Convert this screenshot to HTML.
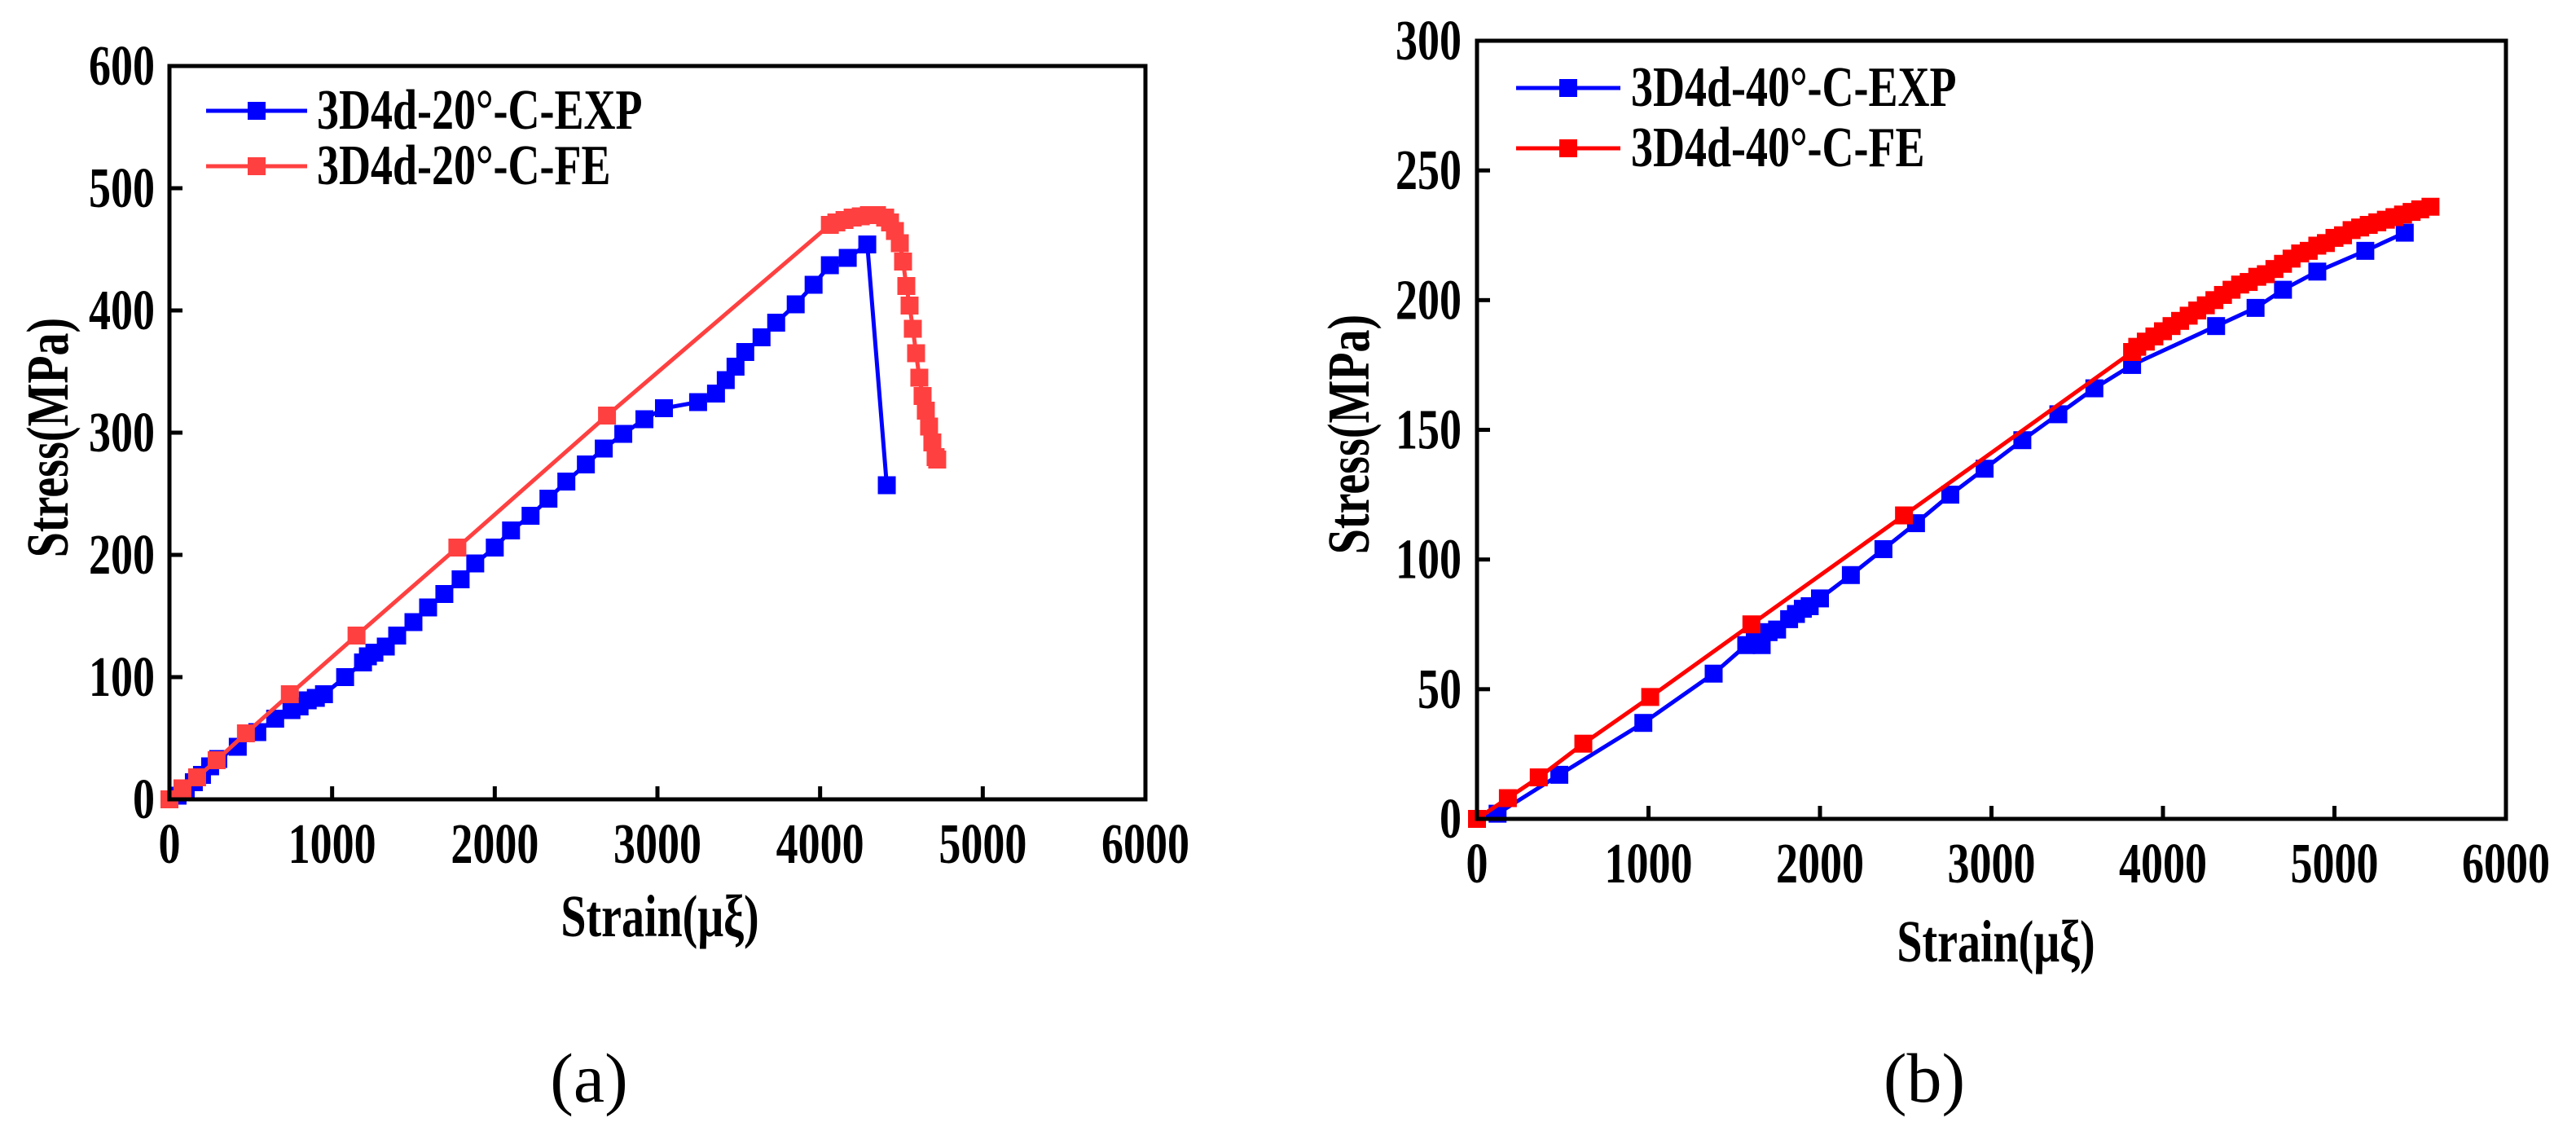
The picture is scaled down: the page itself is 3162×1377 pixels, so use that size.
<!DOCTYPE html>
<html><head><meta charset="utf-8"><style>
html,body{margin:0;padding:0;background:#fff;}
svg{display:block;font-family:"Liberation Serif",serif;font-weight:bold;}
</style></head><body>
<svg id="fig" width="3162" height="1377" viewBox="0 0 3162 1377" xmlns="http://www.w3.org/2000/svg">
<rect width="3162" height="1377" fill="#fff"/>
</svg>
<script>
const xTicks=[0,1000,2000,3000,4000,5000,6000];
const aYTicks=[0,100,200,300,400,500,600];
const bYTicks=[0,50,100,150,200,250,300];
const aExpX=[0,50,100,150,200,250,300,420,540,650,750,800,850,900,950,1080,1190,1220,1260,1330,1400,1500,1590,1690,1790,1880,2000,2100,2220,2330,2440,2560,2670,2790,2920,3040,3250,3360,3420,3480,3540,3640,3730,3850,3960,4060,4170,4290,4410];
const aExpY=[0,3,8,14,20,27,33,43,55,66,73,76,81,83,86,100,112,117,120,125,134,145,157,168,180,193,206,220,232,246,260,274,287,299,311,320,325,332,343,354,366,378,390,405,421,437,443,454,257];
const aFeX=[0,80,170,290,470,740,1150,1770,2690,4060,4100,4150,4200,4250,4300,4350,4400,4430,4460,4490,4510,4530,4550,4570,4590,4610,4630,4650,4670,4690,4710,4720];
const aFeY=[0,9,18,32,54,86,134,206,314,470,472,474,476,477,478,478,476,472,465,455,440,420,404,385,365,345,330,318,305,292,280,278];
const bExpX=[0,120,480,970,1380,1570,1620,1660,1700,1750,1820,1860,1900,1940,2000,2180,2370,2560,2760,2960,3180,3390,3600,3820,4310,4540,4700,4900,5180,5410];
const bExpY=[0,2,17,37,56,67,69,67,72,73,77,79,81,82,85,94,104,114,125,135,146,156,166,175,190,197,204,211,219,226];
const bFeX=[0,180,360,620,1010,1600,2490,3820,3850,3900,3950,4000,4050,4100,4150,4200,4250,4300,4350,4400,4450,4500,4550,4600,4650,4700,4750,4800,4850,4900,4950,5000,5050,5100,5150,5200,5250,5300,5350,5400,5450,5500,5560];
const bFeY=[0,8,16,29,47,75,117,180,182,184,186,188,190,192,194,196,198,200,202,204,206,207,209,210,212,214,216,218,219,221,222,224,225,227,228,229,230,231,232,233,234,235,236];

const NS='http://www.w3.org/2000/svg';
const svg=document.getElementById('fig');
function mk(tag,attrs,parent,text){const e=document.createElementNS(NS,tag);for(const k in attrs)e.setAttribute(k,attrs[k]);if(text!==undefined)e.textContent=text;(parent||svg).appendChild(e);return e;}
function txt(x,y,size,anchor,str,parent,rot){
  const tr=`translate(${x},${y})`+(rot?' rotate(-90)':'')+' scale(1,1.3)';
  return mk('text',{x:0,y:0,'font-size':size,'text-anchor':anchor,transform:tr},parent,str);
}

function panel(cfg){
  const g=mk('g',{});
  
  
  const sx=v=>cfg.x0+(v-0)/6000*(cfg.x1-cfg.x0);
  const sy=v=>cfg.y0-(v/cfg.ymax)*(cfg.y0-cfg.y1);
  function series(xs,ys,color,nm){
    const sg=mk('g',{},g);
    
    
    const pts=xs.map((x,i)=>sx(x).toFixed(1)+','+sy(ys[i]).toFixed(1)).join(' ');
    const pl=mk('polyline',{points:pts,fill:'none',stroke:color,'stroke-width':5},sg);
    
    
    xs.forEach((x,i)=>{
      const r=mk('rect',{x:sx(x)-11,y:sy(ys[i])-11,width:22,height:22,fill:color},sg);
      
      
    });
  }
  series(cfg.expX,cfg.expY,'#0000ff','exp-series');
  series(cfg.feX,cfg.feY,cfg.feColor,'fe-series');
  const frame=mk('rect',{x:cfg.x0,y:cfg.y1,width:cfg.x1-cfg.x0,height:cfg.y0-cfg.y1,fill:'none',stroke:'#000','stroke-width':5},g);
  
  
  xTicks.forEach(t=>{
    const l=mk('line',{x1:sx(t),x2:sx(t),y1:cfg.y0,y2:cfg.y0-16,stroke:'#000','stroke-width':5},g);
    
    
    const tx=txt(sx(t),cfg.y0+78,54,'middle',String(t),g);
    
    
  });
  cfg.yTicks.forEach(t=>{
    const l=mk('line',{x1:cfg.x0,x2:cfg.x0+16,y1:sy(t),y2:sy(t),stroke:'#000','stroke-width':5},g);
    
    
    const tx=txt(cfg.ylx,sy(t)+23,54,'end',String(t),g);
    
    
  });
  const xt=txt(cfg.xtx,cfg.xty+23,56,'middle','Strain(μξ)',g);
  
  
  const yt=txt(cfg.ytx+23,cfg.yty,56,'middle','Stress(MPa)',g,true);
  
  
  cfg.legend.forEach((L,i)=>{
    const lg=mk('g',{},g);
    
    
    mk('line',{x1:cfg.lx1,x2:cfg.lx2,y1:L.y,y2:L.y,stroke:L.c,'stroke-width':5},lg);
    mk('rect',{x:(cfg.lx1+cfg.lx2)/2-11,y:L.y-11,width:22,height:22,fill:L.c},lg);
    txt(cfg.ltx,L.y+22,54,'start',L.t,lg);
  });
  const cap=mk('text',{x:cfg.capx,y:1352,'font-size':86,'text-anchor':'middle','font-weight':'normal'},g,cfg.cap);
  
  
}

panel({name:'chart-a',x0:208,x1:1406,y0:981,y1:81,ymax:600,yTicks:aYTicks,
  expX:aExpX,expY:aExpY,feX:aFeX,feY:aFeY,feColor:'#ff4040',
  ylx:190,xtx:810,xty:1126,ytx:60,yty:537,lx1:253,lx2:377,ltx:389,capx:723,cap:'(a)',
  legend:[{y:136,c:'#0000ff',t:'3D4d-20°-C-EXP'},{y:204,c:'#ff4040',t:'3D4d-20°-C-FE'}]});
panel({name:'chart-b',x0:1813,x1:3076,y0:1005,y1:50,ymax:300,yTicks:bYTicks,
  expX:bExpX,expY:bExpY,feX:bFeX,feY:bFeY,feColor:'#ff0000',
  ylx:1794,xtx:2450,xty:1157,ytx:1657,yty:533,lx1:1861,lx2:1989,ltx:2002,capx:2362,cap:'(b)',
  legend:[{y:108,c:'#0000ff',t:'3D4d-40°-C-EXP'},{y:182,c:'#ff0000',t:'3D4d-40°-C-FE'}]});
</script>
</body></html>
